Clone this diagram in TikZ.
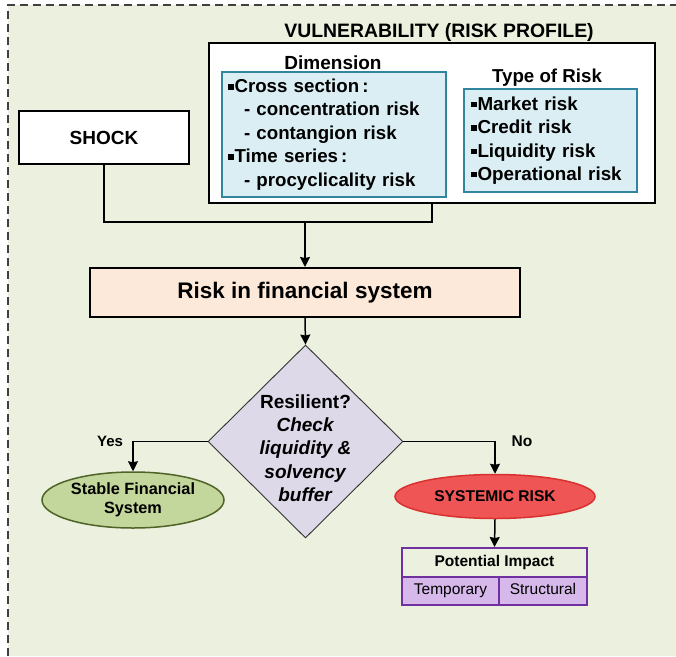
\documentclass[tikz,border=0pt]{standalone}
\usepackage{fontspec}
\setmainfont{Liberation Sans}
\usetikzlibrary{arrows.meta,shapes.geometric}
\definecolor{bggreen}{HTML}{EBF1DE}
\definecolor{lblue}{HTML}{DAEEF3}
\definecolor{tealb}{HTML}{31859C}
\definecolor{peach}{HTML}{FDE9D9}
\definecolor{lav}{HTML}{DDD9E8}
\definecolor{olivef}{HTML}{C3D69B}
\definecolor{oliveb}{HTML}{4F6228}
\definecolor{redf}{HTML}{F05555}
\definecolor{redb}{HTML}{D93030}
\definecolor{purpb}{HTML}{7030A0}
\definecolor{purpf}{HTML}{D6B8EA}
\definecolor{dashc}{HTML}{404040}
\newcommand{\sqb}{\rule[3pt]{5.5pt}{5.5pt}\hspace{1pt}}
\begin{document}
\begin{tikzpicture}[x=1pt,y=-1pt,
  bigbox/.style={draw=black, line width=2pt, fill=white},
  bluebox/.style={draw=tealb, line width=1.8pt, fill=lblue, align=left, inner ysep=0pt},
  conn/.style={line width=1.5pt},
  arr/.style={conn, -{Stealth[length=10pt,width=10pt,inset=1pt]}},
  lbl/.style={font=\fontsize{15}{18}\selectfont\bfseries, inner sep=0pt},
  cell/.style={draw=purpb, line width=2pt, inner sep=0pt, text height=11pt, text depth=3.5pt}
]
\useasboundingbox (0,0) rectangle (676,656);
\fill[bggreen] (8,5) rectangle (676,656);
\draw[dashc, line width=1.1pt, dash pattern=on 8pt off 5pt] (8,656) -- (8,5) -- (676,5);

% vulnerability block
\node[font=\fontsize{19.4}{23}\selectfont\bfseries] (title) at (439,32) {VULNERABILITY (RISK PROFILE)};
\node[bigbox, minimum width=446, minimum height=160] (vbox) at (432,123) {};
\node[font=\fontsize{19}{23}\selectfont\bfseries] (dimlabel) at (333,63) {Dimension};
\node[bluebox, minimum width=224, minimum height=125, text width=212pt, inner xsep=6pt,
      font=\fontsize{18.7}{23.4}\selectfont\bfseries] (dimbox) at (334,134.5)
  {\sqb Cross section\,:\\
   \hspace*{16pt}- concentration risk\\
   \hspace*{16pt}- contangion risk\\
   \sqb Time series\,:\\
   \hspace*{16pt}- procyclicality risk};
\node[font=\fontsize{18.7}{23}\selectfont\bfseries] (typelabel) at (547,78) {Type of Risk};
\node[bluebox, minimum width=173, minimum height=103, text width=159pt, inner xsep=7pt,
      font=\fontsize{18.8}{23.4}\selectfont\bfseries] (typebox) at (550.5,140.5)
  {\sqb Market risk\\
   \sqb Credit risk\\
   \sqb Liquidity risk\\
   \sqb Operational risk};

% shock
\node[bigbox, minimum width=170, minimum height=53, font=\fontsize{19}{23}\selectfont\bfseries] (shock) at (104,137.5) {SHOCK};

% risk in financial system
\node[draw=black, line width=2pt, fill=peach, minimum width=430, minimum height=49,
      font=\fontsize{22.5}{27}\selectfont\bfseries] (risk) at (305,292.5) {Risk in financial system};

\coordinate (j) at (305,222);
\draw[conn] (shock.south) |- (j) -| (vbox.south);
\draw[arr] (j) -- (risk.north);

% decision diamond
\node[diamond, draw=black!80, line width=0.9pt, fill=lav, minimum width=195, minimum height=193, inner sep=0pt] (dia) at (305.5,441.5) {};
\node[align=center, inner sep=0pt, font=\fontsize{19}{23.3}\selectfont\bfseries] (diatext) at (305.5,448)
  {Resilient?\\ \textit{Check}\\ \textit{liquidity \&}\\ \textit{solvency}\\ \textit{buffer}};
\draw[arr] (risk.south) -- (dia.north);

% outcomes
\node[ellipse, draw=oliveb, line width=1.5pt, fill=olivef, minimum width=182, minimum height=56, inner sep=0pt,
      align=center, font=\fontsize{16.3}{19}\selectfont\bfseries] (stable) at (133,500) {Stable Financial\\System};
\node[ellipse, draw=redb, line width=1.5pt, fill=redf, minimum width=200, minimum height=44, inner sep=0pt,
      font=\fontsize{15.6}{19}\selectfont\bfseries] (systemic) at (495,496.5) {SYSTEMIC RISK};
\draw[arr] (dia.west) -| (stable.north);
\draw[arr] (dia.east) -| (systemic.north);
\node[lbl] (yeslabel) at (110,441) {Yes};
\node[lbl, font=\fontsize{15.5}{18}\selectfont\bfseries] (nolabel) at (522,441) {No};

% impact table
\node[cell, minimum width=185, minimum height=28.5,
      font=\fontsize{15.5}{18}\selectfont\bfseries] (impact) at (494.5,562.25) {Potential Impact};
\node[cell, fill=purpf, minimum width=97, minimum height=28,
      font=\fontsize{15.5}{18}\selectfont] (temp) at (450.5,590.5) {Temporary};
\node[cell, fill=purpf, minimum width=88, minimum height=28,
      font=\fontsize{15.5}{18}\selectfont] (struct) at (543,590.5) {Structural};
\draw[arr] (systemic.south) -- (impact.north);
\end{tikzpicture}
\end{document}
